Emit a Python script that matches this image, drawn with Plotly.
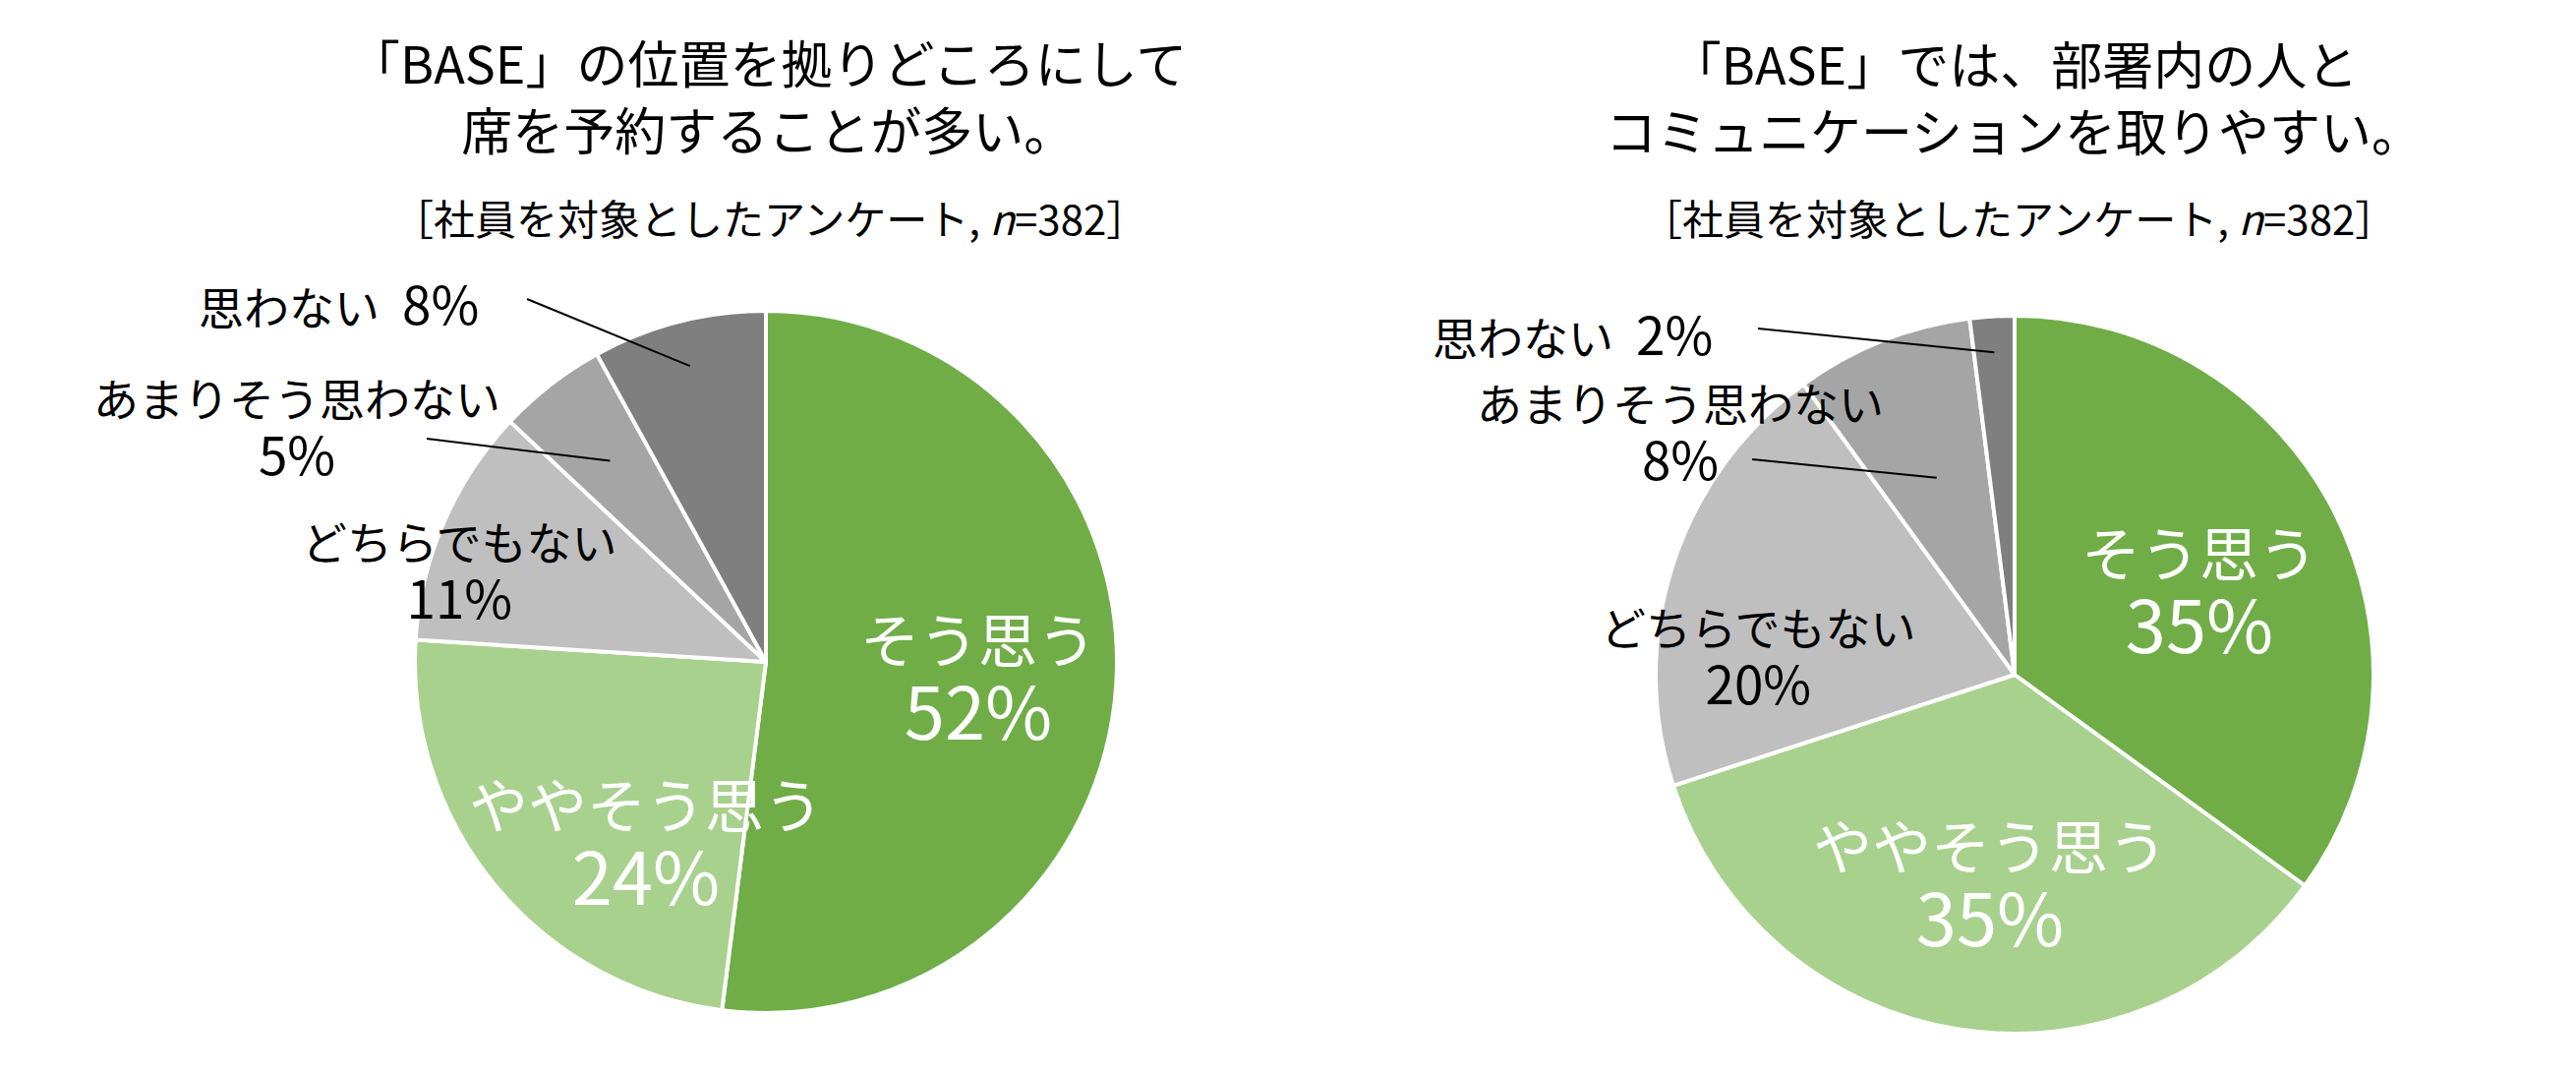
import math
import plotly.graph_objects as go

# ============================================================================
# DATA
# ============================================================================

categories = ["そう思う", "ややそう思う", "どちらでもない", "あまりそう思わない", "思わない"]
colors = ["#70AD47", "#A9D18E", "#BFBFBF", "#A5A5A5", "#7F7F7F"]

left_title = "「BASE」の位置を拠りどころにして<br>席を予約することが多い。"
left_values = [52, 24, 11, 5, 8]

right_title = "「BASE」では、部署内の人と<br>コミュニケーションを取りやすい。"
right_values = [35, 35, 20, 8, 2]

subtitle = "［社員を対象としたアンケート, <i>n</i>=382］"

W, H = 2620, 1093
FONT = "Noto Sans CJK JP"


def px(x, y):
    """pixel position -> paper coords"""
    return x / W, 1 - y / H


def pie_trace(values, cx, cy, r):
    x0, y0 = px(cx - r, cy + r)
    x1, y1 = px(cx + r, cy - r)
    return go.Pie(
        labels=categories,
        values=values,
        sort=False,
        direction="clockwise",
        rotation=0,
        textinfo="none",
        hoverinfo="label+percent",
        marker=dict(colors=colors, line=dict(color="white", width=4)),
        domain=dict(x=[x0, x1], y=[y0, y1]),
        showlegend=False,
    )


def mid_angle(values, i):
    start = sum(values[:i])
    return (start + values[i] / 2) / sum(values) * 2 * math.pi


def leader(values, i, cx, cy, r, frac, ox, oy):
    # line from the label to a point on the slice's middle angle
    a = mid_angle(values, i)
    ix = cx + r * frac * math.sin(a)
    iy = cy - r * frac * math.cos(a)
    x0, y0 = px(ox, oy)
    x1, y1 = px(ix, iy)
    return dict(type="line", xref="paper", yref="paper", x0=x0, y0=y0, x1=x1, y1=y1,
                line=dict(color="black", width=2))


def label(text, x, y, size, color="black"):
    xp, yp = px(x, y)
    return dict(text=text, x=xp, y=yp, xref="paper", yref="paper", showarrow=False,
                xanchor="center", yanchor="middle",
                font=dict(family=FONT, size=size, color=color))


def pct(v, size):
    return f"<span style='font-size:{size}px'>{v}%</span>"


def two_line(values, i, size_d):
    return f"{categories[i]}<br>{pct(values[i], size_d)}"


# pie geometry (pixels)
L_CX, L_CY, L_R = 771, 665, 357
R_CX, R_CY, R_R = 2041, 678, 365

IN_K, IN_D = 60, 74      # inside labels: kana / digits
OUT_K, OUT_D = 46, 53    # outside labels: kana / digits

fig = go.Figure()
fig.add_trace(pie_trace(left_values, L_CX, L_CY, L_R))
fig.add_trace(pie_trace(right_values, R_CX, R_CY, R_R))

annotations = [
    label(left_title, 773, 89, 52),
    label(subtitle, 775, 213, 42),
    label(right_title, 2040, 90, 52),
    label(subtitle, 2045, 213, 42),
    # left pie
    label(two_line(left_values, 0, IN_D), 987, 680, IN_K, "white"),
    label(two_line(left_values, 1, IN_D), 649, 848, IN_K, "white"),
    label(two_line(left_values, 2, OUT_D), 459, 572, OUT_K),
    label(two_line(left_values, 3, OUT_D), 294, 426, OUT_K),
    label(categories[4] + "\u2002" + pct(left_values[4], OUT_D), 336, 299, OUT_K),
    # right pie
    label(two_line(right_values, 0, IN_D), 2229, 592, IN_K, "white"),
    label(two_line(right_values, 1, IN_D), 2016, 890, IN_K, "white"),
    label(two_line(right_values, 2, OUT_D), 1780, 659, OUT_K),
    label(two_line(right_values, 3, OUT_D), 1701, 431, OUT_K),
    label(categories[4] + "\u2002" + pct(right_values[4], OUT_D), 1591, 330, OUT_K),
]

shapes = [
    leader(left_values, 4, L_CX, L_CY, L_R, 0.87, 528, 296),
    leader(left_values, 3, L_CX, L_CY, L_R, 0.725, 426, 438),
    leader(right_values, 4, R_CX, R_CY, R_R, 0.9, 1780, 326),
    leader(right_values, 3, R_CX, R_CY, R_R, 0.59, 1774, 459),
]

fig.update_layout(
    width=W,
    height=H,
    margin=dict(l=0, r=0, t=0, b=0),
    paper_bgcolor="white",
    plot_bgcolor="white",
    font=dict(family=FONT),
    annotations=annotations,
    shapes=shapes,
)

fig.write_html("out.html")
